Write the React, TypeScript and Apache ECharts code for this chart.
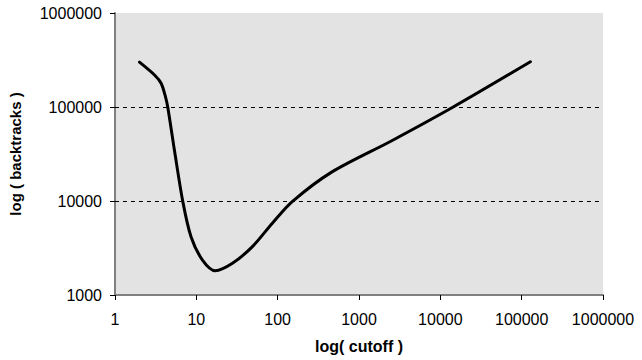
import React, { useEffect, useRef } from "react";
import * as echarts from "echarts";

const cutoff = [2, 3.06, 3.69, 4.17, 4.45, 5.38, 6.8, 8.6, 11.9, 17.1, 27.8, 48.9, 86, 151, 466, 2530, 14400, 128000];
const backtracks = [300000, 219000, 179000, 129000, 100000, 34700, 10000, 4170, 2355, 1815, 2175, 3270, 5800, 9840, 20400, 43800, 100000, 303000];
const gridLineValues = [10000, 100000];

export default function App() {
  const ref = useRef<HTMLDivElement>(null);
  useEffect(() => {
    const chart = echarts.init(ref.current!, null, { renderer: "svg" });
    const font = "'Liberation Sans', Arial, sans-serif";
    chart.setOption({
      animation: false,
      grid: {
        left: 112,
        top: 13,
        right: 39,
        bottom: 65,
        show: true,
        backgroundColor: "#e3e3e3",
        borderWidth: 0,
      },
      xAxis: {
        type: "log",
        logBase: 10,
        min: 1,
        max: 1000000,
        name: "log( cutoff )",
        nameLocation: "middle",
        nameGap: 43,
        nameTextStyle: { fontFamily: font, fontSize: 16, fontWeight: "bold", color: "#000" },
        axisLine: { show: true, lineStyle: { color: "#808080", width: 2 } },
        axisTick: { show: true, length: 5, lineStyle: { color: "#000", width: 1 } },
        axisLabel: {
          fontFamily: font,
          fontSize: 16,
          color: "#000",
          margin: 16,
          formatter: (v: number) => String(Math.round(v)),
        },
        splitLine: { show: false },
        minorTick: { show: false },
      },
      yAxis: {
        type: "log",
        logBase: 10,
        min: 1000,
        max: 1000000,
        name: "log ( backtracks )",
        nameLocation: "middle",
        nameGap: 92,
        nameTextStyle: { fontFamily: font, fontSize: 15, fontWeight: "bold", color: "#000" },
        axisLine: { show: true, lineStyle: { color: "#808080", width: 2 } },
        axisTick: { show: true, length: 5, lineStyle: { color: "#000", width: 1 } },
        axisLabel: {
          fontFamily: font,
          fontSize: 16,
          color: "#000",
          margin: 13,
          formatter: (v: number) => String(Math.round(v)),
        },
        splitLine: { show: false },
      },
      series: [
        {
          type: "line",
          data: cutoff.map((c, i) => [c, backtracks[i]]),
          smooth: 0.3,
          showSymbol: false,
          symbol: "none",
          lineStyle: { color: "#000", width: 3, cap: "round", join: "round" },
          markLine: {
            silent: true,
            symbol: "none",
            label: { show: false },
            lineStyle: { color: "#000", type: [4, 4], width: 1 },
            data: gridLineValues.map((v) => ({ yAxis: v })),
          },
        },
      ],
    });
    return () => chart.dispose();
  }, []);
  return (
    <div
      ref={ref}
      style={{ position: "fixed", left: 0, top: 0, width: 642, height: 360, background: "#fff" }}
    />
  );
}
